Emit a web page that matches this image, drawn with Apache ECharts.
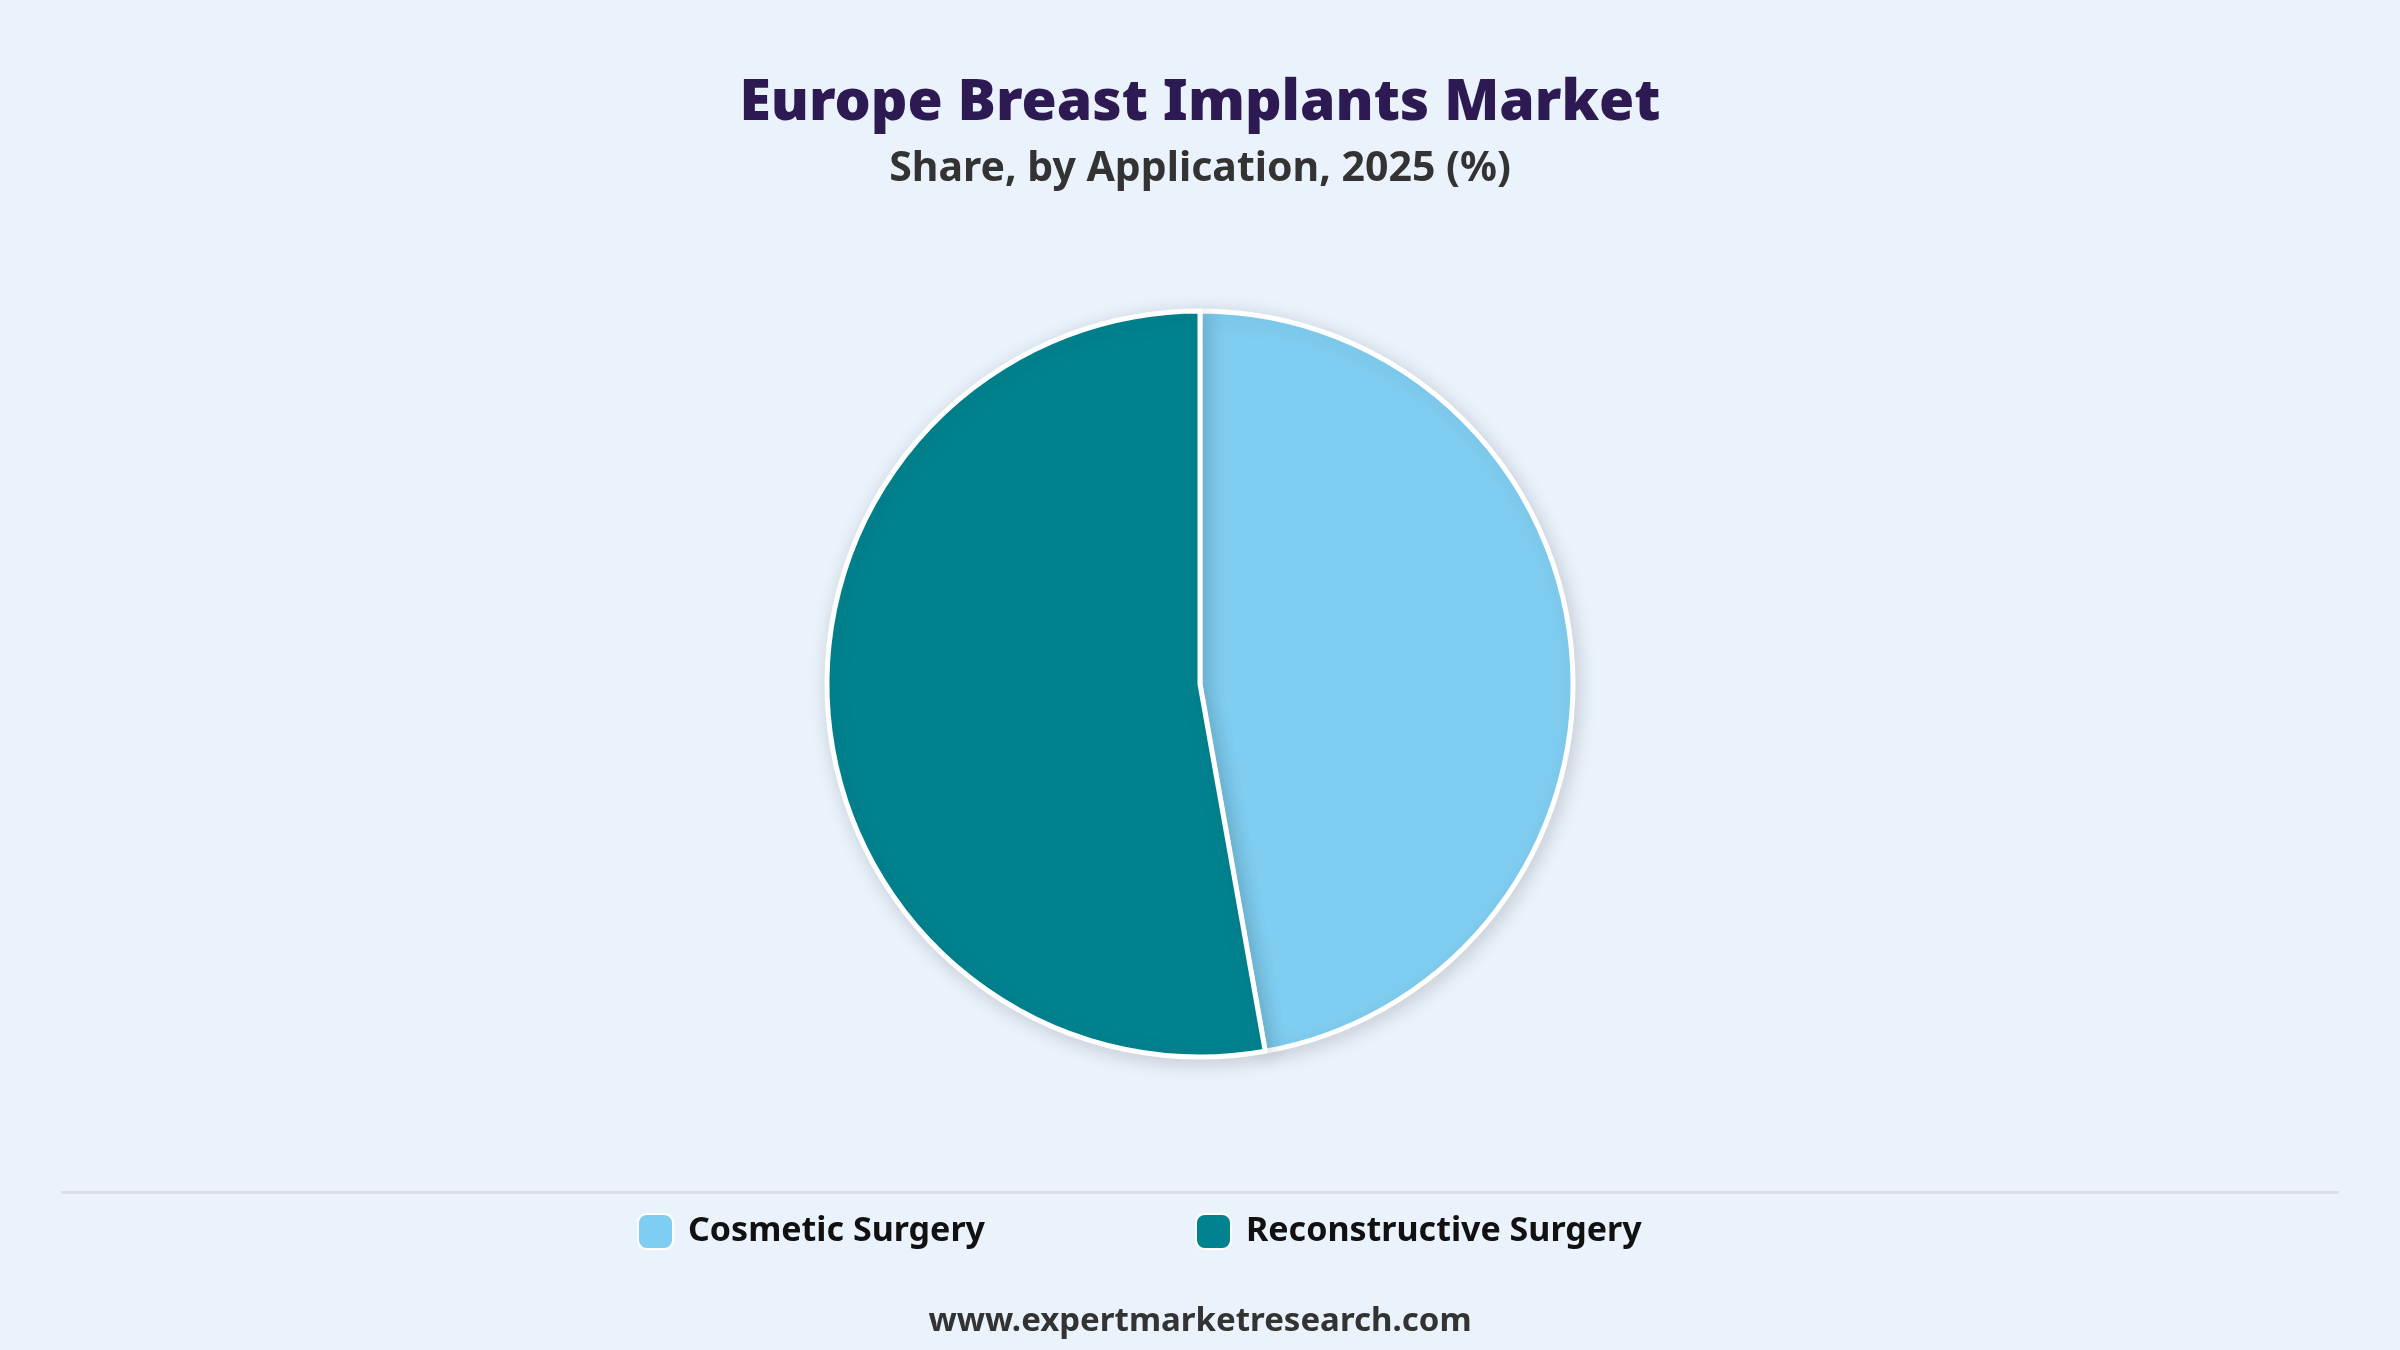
<!DOCTYPE html>
<html>
<head>
<meta charset="utf-8">
<script src="https://cdn.jsdelivr.net/npm/echarts@6/dist/echarts.min.js"></script>
<style>
  html, body { margin: 0; padding: 0; background: #eaf2fb; }
  #main { width: 2400px; height: 1350px; }
</style>
</head>
<body>
<div id="main"></div>
<script>
var categories = ['Cosmetic Surgery', 'Reconstructive Surgery'];
var shares = [47.2, 52.8];
var colors = ['#7fcef1', '#00838f'];

window.onload = function() {

	var myChart = echarts.init(document.getElementById('main'));

	var pieData = categories.map(function(name, i) {
		return { value: shares[i], name: name, itemStyle: { color: colors[i] } };
	});

	var option = {
		backgroundColor: '#eaf2fb',
		title: [
			{
				text: 'Europe Breast Implants Market',
				left: 'center',
				top: 70,
				textStyle: { fontFamily: 'Noto Sans', fontWeight: 900, fontSize: 57, color: '#2e1a52' }
			},
			{
				text: 'Share, by Application, 2025 (%)',
				left: 'center',
				top: 144,
				textStyle: { fontFamily: 'Noto Sans', fontWeight: 'bold', fontSize: 41, color: '#333333' }
			},
			{
				text: 'www.expertmarketresearch.com',
				left: 'center',
				top: 1300,
				textStyle: { fontFamily: 'Noto Sans', fontWeight: 'bold', fontSize: 33, color: '#333333' }
			}
		],
		legend: {
			top: 1208,
			left: 632,
			icon: 'roundRect',
			itemWidth: 35,
			itemHeight: 35,
			itemGap: 210,
			selectedMode: false,
			textStyle: { fontFamily: 'Noto Sans', fontWeight: 'bold', fontSize: 34, color: '#111111', padding: [0, 0, 0, 10] },
			data: categories
		},
		graphic: [
			{
				type: 'rect',
				shape: { x: 61, y: 1191, width: 2278, height: 3 },
				style: { fill: '#dcdfe4' },
				silent: true
			}
		],
		series: [
			{
				type: 'pie',
				center: [1200, 684],
				radius: 373,
				startAngle: 90,
				clockwise: true,
				label: { show: false },
				labelLine: { show: false },
				emphasis: { disabled: true },
				itemStyle: {
					borderColor: '#ffffff',
					borderWidth: 5,
					shadowBlur: 20,
					shadowColor: 'rgba(0, 0, 0, 0.15)',
					shadowOffsetX: 3,
					shadowOffsetY: 4
				},
				data: pieData
			}
		]
	};

	myChart.setOption(option);

}
</script>
</body>
</html>
